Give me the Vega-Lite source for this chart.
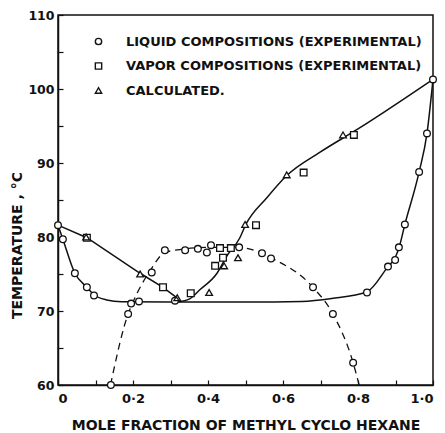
{
  "$schema": "https://vega.github.io/schema/vega-lite/v6.json",
  "width": 375,
  "height": 370,
  "autosize": "none",
  "padding": {"left": 58, "top": 15, "right": 12, "bottom": 48},
  "background": "white",
  "config": {
    "view": {"stroke": "#111", "strokeWidth": 1.5},
    "font": "DejaVu Sans",
    "axis": {"domainColor": "#111", "domainWidth": 1.5, "tickColor": "#111", "tickWidth": 1.2, "labelColor": "#111", "titleColor": "#111", "labelFont": "DejaVu Sans", "titleFont": "DejaVu Sans", "labelFontWeight": "bold", "titleFontWeight": "bold", "labelFontSize": 12.5, "titleFontSize": 14, "grid": false}
  },
  "resolve": {"legend": {"shape": "independent"}},
  "datasets": {
    "curves": [
      {"curve": "vapor_left", "x": 0.0, "t": 81.6},
      {"curve": "vapor_left", "x": 0.077, "t": 79.9},
      {"curve": "vapor_left", "x": 0.219, "t": 75.1},
      {"curve": "vapor_left", "x": 0.28, "t": 73.2},
      {"curve": "vapor_left", "x": 0.322, "t": 71.6},
      {"curve": "vapor_right", "x": 0.322, "t": 71.25},
      {"curve": "vapor_right", "x": 0.35, "t": 71.6},
      {"curve": "vapor_right", "x": 0.379, "t": 72.9},
      {"curve": "vapor_right", "x": 0.424, "t": 75.1},
      {"curve": "vapor_right", "x": 0.451, "t": 77.5},
      {"curve": "vapor_right", "x": 0.485, "t": 79.9},
      {"curve": "vapor_right", "x": 0.5, "t": 81.6},
      {"curve": "vapor_right", "x": 0.557, "t": 85.3},
      {"curve": "vapor_right", "x": 0.61, "t": 88.3},
      {"curve": "vapor_right", "x": 0.7, "t": 91.5},
      {"curve": "vapor_right", "x": 0.8, "t": 94.6},
      {"curve": "vapor_right", "x": 1.0, "t": 101.3},
      {"curve": "liquid", "x": 0.0, "t": 81.6},
      {"curve": "liquid", "x": 0.013, "t": 79.7},
      {"curve": "liquid", "x": 0.045, "t": 75.1},
      {"curve": "liquid", "x": 0.077, "t": 73.2},
      {"curve": "liquid", "x": 0.096, "t": 72.2},
      {"curve": "liquid", "x": 0.13, "t": 71.5},
      {"curve": "liquid", "x": 0.17, "t": 71.25},
      {"curve": "liquid", "x": 0.3, "t": 71.2},
      {"curve": "liquid", "x": 0.5, "t": 71.2},
      {"curve": "liquid", "x": 0.65, "t": 71.3},
      {"curve": "liquid", "x": 0.73, "t": 71.7},
      {"curve": "liquid", "x": 0.824, "t": 72.6},
      {"curve": "liquid", "x": 0.88, "t": 76.0},
      {"curve": "liquid", "x": 0.899, "t": 77.2},
      {"curve": "liquid", "x": 0.909, "t": 78.5},
      {"curve": "liquid", "x": 0.925, "t": 81.7},
      {"curve": "liquid", "x": 0.963, "t": 88.8},
      {"curve": "liquid", "x": 0.984, "t": 94.0},
      {"curve": "liquid", "x": 1.0, "t": 101.3},
      {"curve": "solubility", "x": 0.14, "t": 60.0},
      {"curve": "solubility", "x": 0.187, "t": 69.6},
      {"curve": "solubility", "x": 0.2, "t": 71.2},
      {"curve": "solubility", "x": 0.245, "t": 75.4},
      {"curve": "solubility", "x": 0.285, "t": 77.9},
      {"curve": "solubility", "x": 0.34, "t": 78.4},
      {"curve": "solubility", "x": 0.4, "t": 78.6},
      {"curve": "solubility", "x": 0.48, "t": 78.6},
      {"curve": "solubility", "x": 0.544, "t": 77.8},
      {"curve": "solubility", "x": 0.568, "t": 77.2},
      {"curve": "solubility", "x": 0.68, "t": 73.2},
      {"curve": "solubility", "x": 0.733, "t": 69.6},
      {"curve": "solubility", "x": 0.787, "t": 63.0},
      {"curve": "solubility", "x": 0.803, "t": 60.0}
    ],
    "points": [
      {"type": "LIQUID  COMPOSITIONS (EXPERIMENTAL)", "x": 0.0, "t": 81.6},
      {"type": "LIQUID  COMPOSITIONS (EXPERIMENTAL)", "x": 0.013, "t": 79.7},
      {"type": "LIQUID  COMPOSITIONS (EXPERIMENTAL)", "x": 0.045, "t": 75.1},
      {"type": "LIQUID  COMPOSITIONS (EXPERIMENTAL)", "x": 0.077, "t": 73.2},
      {"type": "LIQUID  COMPOSITIONS (EXPERIMENTAL)", "x": 0.096, "t": 72.1},
      {"type": "LIQUID  COMPOSITIONS (EXPERIMENTAL)", "x": 0.141, "t": 60.0},
      {"type": "LIQUID  COMPOSITIONS (EXPERIMENTAL)", "x": 0.187, "t": 69.6},
      {"type": "LIQUID  COMPOSITIONS (EXPERIMENTAL)", "x": 0.195, "t": 71.0},
      {"type": "LIQUID  COMPOSITIONS (EXPERIMENTAL)", "x": 0.216, "t": 71.3},
      {"type": "LIQUID  COMPOSITIONS (EXPERIMENTAL)", "x": 0.25, "t": 75.2},
      {"type": "LIQUID  COMPOSITIONS (EXPERIMENTAL)", "x": 0.285, "t": 78.2},
      {"type": "LIQUID  COMPOSITIONS (EXPERIMENTAL)", "x": 0.312, "t": 71.4},
      {"type": "LIQUID  COMPOSITIONS (EXPERIMENTAL)", "x": 0.339, "t": 78.2},
      {"type": "LIQUID  COMPOSITIONS (EXPERIMENTAL)", "x": 0.373, "t": 78.4},
      {"type": "LIQUID  COMPOSITIONS (EXPERIMENTAL)", "x": 0.397, "t": 77.9},
      {"type": "LIQUID  COMPOSITIONS (EXPERIMENTAL)", "x": 0.408, "t": 78.9},
      {"type": "LIQUID  COMPOSITIONS (EXPERIMENTAL)", "x": 0.483, "t": 78.6},
      {"type": "LIQUID  COMPOSITIONS (EXPERIMENTAL)", "x": 0.544, "t": 77.8},
      {"type": "LIQUID  COMPOSITIONS (EXPERIMENTAL)", "x": 0.568, "t": 77.1},
      {"type": "LIQUID  COMPOSITIONS (EXPERIMENTAL)", "x": 0.68, "t": 73.2},
      {"type": "LIQUID  COMPOSITIONS (EXPERIMENTAL)", "x": 0.733, "t": 69.6},
      {"type": "LIQUID  COMPOSITIONS (EXPERIMENTAL)", "x": 0.787, "t": 63.0},
      {"type": "LIQUID  COMPOSITIONS (EXPERIMENTAL)", "x": 0.824, "t": 72.5},
      {"type": "LIQUID  COMPOSITIONS (EXPERIMENTAL)", "x": 0.88, "t": 76.0},
      {"type": "LIQUID  COMPOSITIONS (EXPERIMENTAL)", "x": 0.899, "t": 76.9},
      {"type": "LIQUID  COMPOSITIONS (EXPERIMENTAL)", "x": 0.909, "t": 78.6},
      {"type": "LIQUID  COMPOSITIONS (EXPERIMENTAL)", "x": 0.925, "t": 81.7},
      {"type": "LIQUID  COMPOSITIONS (EXPERIMENTAL)", "x": 0.963, "t": 88.8},
      {"type": "LIQUID  COMPOSITIONS (EXPERIMENTAL)", "x": 0.984, "t": 94.0},
      {"type": "LIQUID  COMPOSITIONS (EXPERIMENTAL)", "x": 1.0, "t": 101.3},
      {"type": "VAPOR  COMPOSITIONS (EXPERIMENTAL)", "x": 0.077, "t": 79.9},
      {"type": "VAPOR  COMPOSITIONS (EXPERIMENTAL)", "x": 0.28, "t": 73.2},
      {"type": "VAPOR  COMPOSITIONS (EXPERIMENTAL)", "x": 0.354, "t": 72.4},
      {"type": "VAPOR  COMPOSITIONS (EXPERIMENTAL)", "x": 0.419, "t": 76.1},
      {"type": "VAPOR  COMPOSITIONS (EXPERIMENTAL)", "x": 0.44, "t": 77.2},
      {"type": "VAPOR  COMPOSITIONS (EXPERIMENTAL)", "x": 0.432, "t": 78.5},
      {"type": "VAPOR  COMPOSITIONS (EXPERIMENTAL)", "x": 0.461, "t": 78.5},
      {"type": "VAPOR  COMPOSITIONS (EXPERIMENTAL)", "x": 0.528, "t": 81.6},
      {"type": "VAPOR  COMPOSITIONS (EXPERIMENTAL)", "x": 0.655, "t": 88.7},
      {"type": "VAPOR  COMPOSITIONS (EXPERIMENTAL)", "x": 0.789, "t": 93.8},
      {"type": "CALCULATED.", "x": 0.075, "t": 80.0},
      {"type": "CALCULATED.", "x": 0.219, "t": 75.0},
      {"type": "CALCULATED.", "x": 0.318, "t": 71.8},
      {"type": "CALCULATED.", "x": 0.403, "t": 72.5},
      {"type": "CALCULATED.", "x": 0.443, "t": 76.1},
      {"type": "CALCULATED.", "x": 0.48, "t": 77.2},
      {"type": "CALCULATED.", "x": 0.499, "t": 81.7},
      {"type": "CALCULATED.", "x": 0.61, "t": 88.4},
      {"type": "CALCULATED.", "x": 0.76, "t": 93.8}
    ]
  },
  "encoding": {
    "x": {
      "field": "x", "type": "quantitative",
      "scale": {"domain": [0, 1], "nice": false, "zero": false},
      "axis": {
        "values": [0, 0.1, 0.2, 0.3, 0.4, 0.5, 0.6, 0.7, 0.8, 0.9, 1.0],
        "labelExpr": "datum.value == 0 ? '0' : (round(datum.value * 10) % 2 == 0 ? replace(format(datum.value, '.1f'), '.', '·') : '')",
        "labelFontSize": 13,
        "tickSize": -5,
        "labelPadding": 12,
        "title": "MOLE  FRACTION  OF  METHYL  CYCLO  HEXANE",
        "titlePadding": 13
      }
    },
    "y": {
      "field": "t", "type": "quantitative",
      "scale": {"domain": [60, 110], "nice": false, "zero": false},
      "axis": {
        "values": [60, 65, 70, 75, 80, 85, 90, 95, 100, 105, 110],
        "labelExpr": "datum.value % 10 == 0 ? datum.label : ''",
        "tickSize": -5,
        "labelPadding": 9,
        "title": "TEMPERATURE , °C",
        "titleX": -34,
        "titleY": 230
      }
    }
  },
  "layer": [
    {
      "data": {"name": "curves"},
      "transform": [{"filter": "datum.curve == 'vapor_left'"}],
      "mark": {"type": "line", "color": "#111", "strokeWidth": 1.5, "interpolate": "linear"}
    },
    {
      "data": {"name": "curves"},
      "transform": [{"filter": "datum.curve == 'vapor_right' || datum.curve == 'liquid'"}],
      "mark": {"type": "line", "color": "#111", "strokeWidth": 1.5, "interpolate": "monotone"},
      "encoding": {"detail": {"field": "curve"}}
    },
    {
      "data": {"name": "curves"},
      "transform": [{"filter": "datum.curve == 'solubility'"}],
      "mark": {"type": "line", "color": "#111", "strokeWidth": 1.3, "interpolate": "monotone", "strokeDash": [7, 5]}
    },
    {
      "data": {"name": "points"},
      "mark": {"type": "point", "filled": true, "color": "white", "opacity": 1, "size": 45},
      "encoding": {
        "shape": {
          "field": "type", "type": "nominal",
          "scale": {
            "domain": ["LIQUID  COMPOSITIONS (EXPERIMENTAL)", "VAPOR  COMPOSITIONS (EXPERIMENTAL)", "CALCULATED."],
            "range": ["circle", "square", "triangle-up"]
          },
          "legend": null
        }
      }
    },
    {
      "data": {"name": "points"},
      "mark": {"type": "point", "filled": false, "color": "#111", "strokeWidth": 1.3, "size": 45, "opacity": 1},
      "encoding": {
        "shape": {
          "field": "type", "type": "nominal",
          "legend": {
            "title": null,
            "orient": "none",
            "legendX": 34,
            "legendY": 20,
            "labelFont": "DejaVu Sans",
            "labelFontWeight": "bold",
            "labelFontSize": 13,
            "labelColor": "#111",
            "labelLimit": 400,
            "labelOffset": 21,
            "rowPadding": 10.5,
            "symbolStrokeWidth": 1.4,
            "symbolSize": 40
          }
        }
      }
    }
  ]
}
